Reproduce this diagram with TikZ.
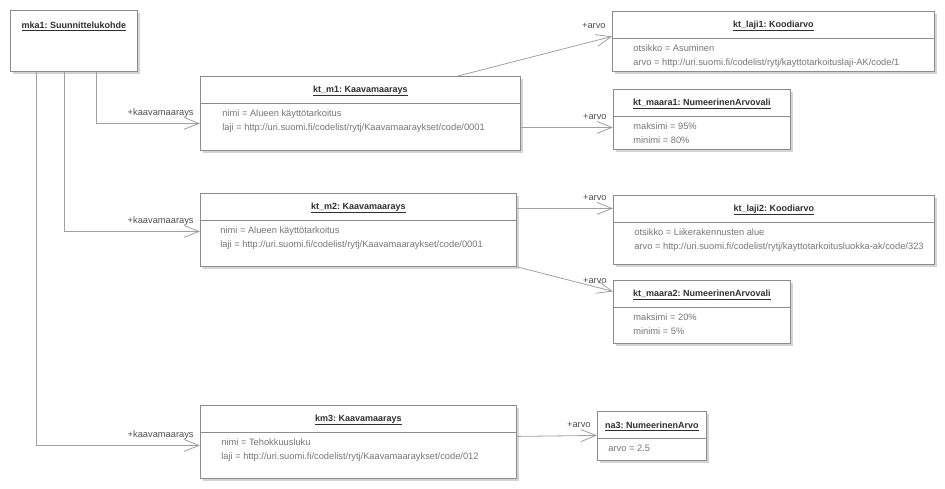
\documentclass[tikz,border=0pt]{standalone}
\usepackage{fontspec}
\setmainfont{Liberation Sans}
\usetikzlibrary{arrows.meta, shadows, positioning}
\definecolor{boxline}{HTML}{8C8C8C}
\definecolor{assocline}{HTML}{A0A0A0}
\definecolor{titletext}{HTML}{303030}
\definecolor{attrtext}{HTML}{767676}
\definecolor{shadowgray}{HTML}{D4D4D4}
\frenchspacing
% object box with title and one compartment line
\newcommand{\objbox}[6]{%
    \node[objshape, minimum width=#4, minimum height=#5] (#1) at (#2,#3) {};
    \node[objtitle] (#1-title) at ([yshift=-15pt]#1.north) {\underline{#6}};
    \draw[sepline] ([yshift=-27pt]#1.north west) -- ([yshift=-27pt]#1.north east);
}

\begin{document}
\begin{tikzpicture}[
        x=1pt,
        y=-1pt,
        line width=0.8pt,
        every node/.style={font=\fontsize{9.3}{11}\selectfont},
        objshape/.style={draw=boxline, fill=white, anchor=north west, inner sep=0pt,
            general shadow={fill=shadowgray, shadow xshift=3pt, shadow yshift=-3pt}},
        objtitle/.style={text=titletext, font=\fontsize{9}{11}\selectfont\bfseries, inner sep=0pt},
        sepline/.style={draw=boxline},
        attr/.style={text=attrtext, anchor=base west, inner sep=0pt},
        assoc/.style={draw=assocline, -{Straight Barb[length=15pt, width=12pt, line width=0.8pt]}},
        rolelabel/.style={text=titletext!85, anchor=base east, inner sep=0pt, xshift=-6pt, yshift=8pt}
    ]
    \useasboundingbox (0,0) rectangle (945,488);

    % object boxes
    \node[objshape, minimum width=127, minimum height=61] (mka1) at (10,10) {};
    \node[objtitle] (mka1-title) at ([yshift=-16pt]mka1.north) {\underline{mka1: Suunnittelukohde}};

    \objbox{ktm1}{200}{76}{320}{74}{kt\_m1: Kaavamaarays}
    \objbox{ktlaji1}{612}{11}{322}{60}{kt\_laji1: Koodiarvo}
    \objbox{ktmaara1}{613}{89}{177}{60}{kt\_maara1: NumeerinenArvovali}
    \objbox{ktm2}{200}{193}{316}{73}{kt\_m2: Kaavamaarays}
    \objbox{ktlaji2}{613}{195}{321}{69}{kt\_laji2: Koodiarvo}
    \objbox{ktmaara2}{613}{280}{177}{63}{kt\_maara2: NumeerinenArvovali}
    \objbox{km3}{200}{405}{316}{73}{km3: Kaavamaarays}
    \objbox{na3}{597}{411}{109}{49}{na3: NumeerinenArvo}

    % attributes
    \node[attr] (ktm1-a1) at ([xshift=22pt, yshift=-40pt]ktm1.north west) {nimi = Alueen käyttötarkoitus};
    \node[attr] (ktm1-a2) at ([yshift=-14pt]ktm1-a1.base west) {laji = http://uri.suomi.fi/codelist/rytj/Kaavamaaraykset/code/0001};
    \node[attr] (ktlaji1-a1) at ([xshift=21pt, yshift=-40pt]ktlaji1.north west) {otsikko = Asuminen};
    \node[attr] (ktlaji1-a2) at ([yshift=-14pt]ktlaji1-a1.base west) {arvo = http://uri.suomi.fi/codelist/rytj/kayttotarkoituslaji-AK/code/1};
    \node[attr] (ktmaara1-a1) at ([xshift=20pt, yshift=-40pt]ktmaara1.north west) {maksimi = 95\%};
    \node[attr] (ktmaara1-a2) at ([yshift=-14pt]ktmaara1-a1.base west) {minimi = 80\%};
    \node[attr] (ktm2-a1) at ([xshift=20pt, yshift=-40pt]ktm2.north west) {nimi = Alueen käyttötarkoitus};
    \node[attr] (ktm2-a2) at ([yshift=-14pt]ktm2-a1.base west) {laji = http://uri.suomi.fi/codelist/rytj/Kaavamaaraykset/code/0001};
    \node[attr] (ktlaji2-a1) at ([xshift=21pt, yshift=-40pt]ktlaji2.north west) {otsikko = Liikerakennusten alue};
    \node[attr] (ktlaji2-a2) at ([yshift=-14pt]ktlaji2-a1.base west) {arvo = http://uri.suomi.fi/codelist/rytj/kayttotarkoitusluokka-ak/code/323};
    \node[attr] (ktmaara2-a1) at ([xshift=20pt, yshift=-40pt]ktmaara2.north west) {maksimi = 20\%};
    \node[attr] (ktmaara2-a2) at ([yshift=-14pt]ktmaara2-a1.base west) {minimi = 5\%};
    \node[attr] (km3-a1) at ([xshift=21pt, yshift=-40pt]km3.north west) {nimi = Tehokkuusluku};
    \node[attr] (km3-a2) at ([yshift=-14pt]km3-a1.base west) {laji = http://uri.suomi.fi/codelist/rytj/Kaavamaaraykset/code/012};
    \node[attr] (na3-a1) at ([xshift=11pt, yshift=-40pt]na3.north west) {arvo = 2.5};

    % associations
    \draw[assoc] ([xshift=86pt]mka1.south west) |- ([yshift=-10pt]ktm1.west) node[rolelabel] {+kaavamaarays};
    \draw[assoc] ([xshift=54pt]mka1.south west) |- ([yshift=-1.5pt]ktm2.west) node[rolelabel] {+kaavamaarays};
    \draw[assoc] ([xshift=26pt]mka1.south west) |- ([yshift=-3.5pt]km3.west) node[rolelabel] {+kaavamaarays};
    \draw[assoc] ([xshift=258pt]ktm1.north west) -- ([yshift=5pt]ktlaji1.west) node[rolelabel] {+arvo};
    \draw[assoc] ([yshift=-14pt]ktm1.east) -- ([yshift=-8pt]ktmaara1.west) node[rolelabel] {+arvo};
    \draw[assoc] ([yshift=21.5pt]ktm2.east) -- ([yshift=21.5pt]ktlaji2.west) node[rolelabel] {+arvo};
    \draw[assoc] (ktm2.south east) -- ([yshift=20.5pt]ktmaara2.west) node[rolelabel] {+arvo};
    \draw[assoc] ([yshift=5.5pt]km3.east) -- ([yshift=0.5pt]na3.west) node[rolelabel] {+arvo};
\end{tikzpicture}
\end{document}
